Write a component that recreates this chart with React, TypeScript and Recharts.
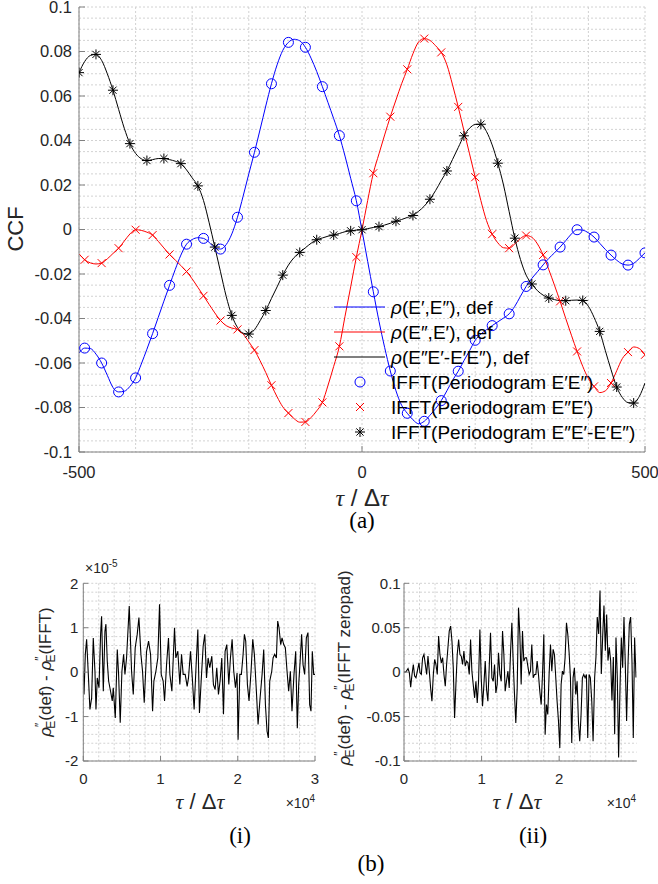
import React from 'react';
import { LineChart, Line, XAxis, YAxis, CartesianGrid } from 'recharts';

// ---------- main chart (a) ----------
const lags = [
  -500, -490, -480, -470, -460, -450, -440, -430, -420, -410,
  -400, -390, -380, -370, -360, -350, -340, -330, -320, -310,
  -300, -290, -280, -270, -260, -250, -240, -230, -220, -210,
  -200, -190, -180, -170, -160, -150, -140, -130, -120, -110,
  -100, -90, -80, -70, -60, -50, -40, -30, -20, -10,
  0, 10, 20, 30, 40, 50, 60, 70, 80, 90,
  100, 110, 120, 130, 140, 150, 160, 170, 180, 190,
  200, 210, 220, 230, 240, 250, 260, 270, 280, 290,
  300, 310, 320, 330, 340, 350, 360, 370, 380, 390,
  400, 410, 420, 430, 440, 450, 460, 470, 480, 490, 500,
];

// rho(E',E''), def  (blue)
const rhoE1E2 = [
  -0.0555, -0.0533, -0.0535, -0.0560, -0.0600, -0.0655, -0.0710, -0.0730, -0.0727, -0.0705,
  -0.0667, -0.0605, -0.0538, -0.0468, -0.0395, -0.0322, -0.0251, -0.0180, -0.0115, -0.0066,
  -0.0045, -0.0037, -0.0040, -0.0058, -0.0082, -0.0088, -0.0068, -0.0020, 0.0055, 0.0150,
  0.0250, 0.0347, 0.0450, 0.0555, 0.0655, 0.0740, 0.0805, 0.0841, 0.0855, 0.0848,
  0.0819, 0.0770, 0.0710, 0.0642, 0.0570, 0.0498, 0.0422, 0.0330, 0.0230, 0.0129,
  -0.0005, -0.0143, -0.0280, -0.0412, -0.0530, -0.0636, -0.0725, -0.0790, -0.0826, -0.0855,
  -0.0873, -0.0862, -0.0835, -0.0805, -0.0769, -0.0725, -0.0678, -0.0637, -0.0590, -0.0545,
  -0.0498, -0.0470, -0.0450, -0.0432, -0.0415, -0.0398, -0.0379, -0.0345, -0.0300, -0.0256,
  -0.0220, -0.0190, -0.0159, -0.0130, -0.0105, -0.0079, -0.0050, -0.0020, -0.0001, -0.0003,
  -0.0015, -0.0034, -0.0062, -0.0090, -0.0115, -0.0138, -0.0155, -0.0160, -0.0152, -0.0130, -0.0105,
];

// rho(E'',E'), def  (red)
const rhoE2E1 = [
  -0.0109, -0.0136, -0.0150, -0.0155, -0.0151, -0.0132, -0.0108, -0.0084, -0.0052, -0.0020,
  -0.0001, -0.0004, -0.0012, -0.0025, -0.0053, -0.0083, -0.0112, -0.0137, -0.0162, -0.0189,
  -0.0222, -0.0260, -0.0298, -0.0337, -0.0375, -0.0409, -0.0432, -0.0443, -0.0449, -0.0470,
  -0.0505, -0.0542, -0.0590, -0.0643, -0.0700, -0.0752, -0.0797, -0.0825, -0.0850, -0.0866,
  -0.0865, -0.0845, -0.0815, -0.0777, -0.0700, -0.0615, -0.0525, -0.0390, -0.0258, -0.0124,
  -0.0002, 0.0130, 0.0253, 0.0340, 0.0425, 0.0507, 0.0582, 0.0655, 0.0720, 0.0790,
  0.0843, 0.0858, 0.0850, 0.0826, 0.0796, 0.0740, 0.0650, 0.0551, 0.0445, 0.0340,
  0.0235, 0.0130, 0.0040, -0.0021, -0.0060, -0.0082, -0.0084, -0.0065, -0.0040, -0.0027,
  -0.0035, -0.0065, -0.0114, -0.0180, -0.0250, -0.0323, -0.0400, -0.0475, -0.0548, -0.0615,
  -0.0670, -0.0705, -0.0733, -0.0725, -0.0690, -0.0635, -0.0580, -0.0551, -0.0528, -0.0535, -0.0563,
];

// rho(E''E'-E'E''), def  (black)
const rhoDiff = [
  0.0705, 0.0755, 0.0782, 0.0787, 0.0760, 0.0700, 0.0626, 0.0540, 0.0455, 0.0386,
  0.0342, 0.0318, 0.0310, 0.0314, 0.0319, 0.0319, 0.0314, 0.0307, 0.0296, 0.0268,
  0.0232, 0.0196, 0.0130, 0.0030, -0.0079, -0.0190, -0.0300, -0.0386, -0.0440, -0.0466,
  -0.0470, -0.0450, -0.0410, -0.0364, -0.0310, -0.0258, -0.0205, -0.0160, -0.0126, -0.0103,
  -0.0082, -0.0062, -0.0046, -0.0038, -0.0030, -0.0025, -0.0018, -0.0010, -0.0006, -0.0003,
  -0.0001, 0.0004, 0.0009, 0.0013, 0.0020, 0.0028, 0.0037, 0.0045, 0.0054, 0.0063,
  0.0082, 0.0105, 0.0136, 0.0175, 0.0220, 0.0263, 0.0315, 0.0368, 0.0421, 0.0455,
  0.0472, 0.0473, 0.0440, 0.0380, 0.0298, 0.0200, 0.0080, -0.0039, -0.0135, -0.0205,
  -0.0245, -0.0275, -0.0295, -0.0308, -0.0315, -0.0320, -0.0320, -0.0318, -0.0317, -0.0319,
  -0.0345, -0.0395, -0.0458, -0.0545, -0.0630, -0.0708, -0.0755, -0.0778, -0.0780, -0.0750, -0.0690,
];

// lags carrying IFFT markers
const blueRedMarkerLags = [
  -490, -460, -430, -400, -370, -340, -310, -280, -250, -220, -190, -160, -130, -100, -70, -40, -10,
  20, 50, 80, 110, 140, 170, 200, 230, 260, 290, 320, 350, 380, 410, 440, 470, 500,
];
const blackMarkerLags = [
  -500, -470, -440, -410, -380, -350, -320, -290, -260, -230, -200, -170, -140, -110, -80, -50, -20,
  0, 30, 60, 90, 120, 150, 180, 210, 240, 270, 300, 330, 360, 390, 420, 450, 480,
];

const mainXTicks = [-500, 0, 500];
const mainYTicks = [-0.1, -0.08, -0.06, -0.04, -0.02, 0, 0.02, 0.04, 0.06, 0.08, 0.1];
const mainYTickLabels = ['-0.1', '-0.08', '-0.06', '-0.04', '-0.02', '0', '0.02', '0.04', '0.06', '0.08', '0.1'];

const legendLabels = [
  ['ρ', '(E′,E″), def'],
  ['ρ', '(E″,E′), def'],
  ['ρ', '(E″E′-E′E″), def'],
  ['', 'IFFT(Periodogram E′E″)'],
  ['', 'IFFT(Periodogram E″E′)'],
  ['', 'IFFT(Periodogram E″E′-E′E″)'],
];

// ---------- subplot (i) ----------
const tauI = [
  0, 90, 260, 430, 650, 860, 1080, 1290, 1510, 1640, 1810, 2030, 2240, 2370, 2590, 2800, 2930, 3100, 3280, 3530,
  3750, 3880, 4140, 4400, 4570, 4780, 5000, 5220, 5390, 5600, 5950, 6250, 6470, 6720, 6980, 7200, 7460, 7670, 7890, 8190,
  8450, 8710, 8970, 9140, 9400, 9650, 9870, 10090, 10340, 10520, 10780, 11030, 11210, 11470, 11810, 11980, 12240, 12500, 12720, 12930,
  13190, 13450, 13620, 13880, 14140, 14350, 14610, 14830, 15040, 15260, 15520, 15730, 15950, 16160, 16380, 16640, 16850, 17070, 17280, 17500,
  17710, 17930, 18150, 18360, 18580, 18840, 19050, 19270, 19480, 19700, 19910, 20040, 20260, 20470, 20690, 20860, 21030, 21250, 21460, 21720,
  21940, 22150, 22410, 22630, 22890, 23150, 23360, 23580, 23790, 23960, 24140, 24400, 24570, 24780, 25000, 25170, 25340, 25560, 25730, 25950,
  26160, 26380, 26590, 26810, 27020, 27280, 27500, 27710, 27890, 28100, 28270, 28450, 28660, 28880, 29090, 29310, 29480, 29650, 29830, 30000,
];
// rho''_E(def) - rho''_E(IFFT), in units of 1e-5
const diffI = [
  0.02, -0.50, 0.40, 0.74, -0.05, -0.84, -0.58, 0.77, 0.02, -0.84, -0.13, -0.35, 0.85, 1.26, -0.43, 0.92, 1.08, 0.25, -0.20, -0.43,
  -0.65, -0.35, -1.03, 0.51, -0.05, -1.14, 0.02, 0.40, -0.05, 0.32, 1.49, 0.02, -0.50, 0.55, 0.85, 1.23, 0.40, 0.02, -0.69, 0.47,
  0.70, 0.40, -0.88, -0.20, 0.02, 0.32, 1.53, -0.05, -0.20, -0.65, 0.17, 0.77, -0.05, -0.43, 1.00, 0.32, 0.47, -0.28, 0.40, -0.05,
  -0.05, -0.32, -0.13, 0.47, -0.20, -0.84, 0.17, 0.96, -0.92, -0.20, 0.59, 0.85, -0.13, 0.32, 0.10, 0.36, -0.28, -0.39, 0.10, -0.50,
  -0.20, 0.32, -0.95, 0.47, 0.62, -0.28, 0.32, 0.74, 0.02, -0.35, -0.02, -1.52, -0.05, -0.05, 0.40, 0.85, 0.70, -0.28, -0.65, 0.02,
  0.74, 0.40, -0.43, -1.18, -0.58, -0.05, 0.51, -0.73, -1.33, -1.48, -0.20, 0.02, 0.32, 0.40, 0.32, 1.15, 1.00, 0.62, 0.77, 0.62,
  0.55, 0.02, -0.43, 0.02, -0.88, -0.05, 0.47, -1.26, -0.28, 0.32, 0.85, 0.17, -0.05, 0.77, 0.89, -0.73, -0.88, 0.47, -0.05, -0.05,
];

// ---------- subplot (ii) ----------
const tauII = [
  0, 260, 520, 690, 860, 1030, 1200, 1370, 1540, 1720, 1930, 2060, 2230, 2400, 2570, 2750, 2920, 3090, 3260, 3430,
  3600, 3780, 3950, 4120, 4290, 4460, 4630, 4810, 4980, 5150, 5320, 5490, 5660, 5830, 6010, 6180, 6350, 6520, 6690, 6860,
  7040, 7210, 7380, 7550, 7720, 7890, 8070, 8240, 8410, 8580, 8750, 8920, 9100, 9270, 9440, 9610, 9780, 9950, 10120, 10300,
  10470, 10640, 10810, 10980, 11150, 11330, 11500, 11670, 11840, 12010, 12180, 12360, 12530, 12700, 12870, 13040, 13210, 13390, 13560, 13730,
  13900, 14070, 14240, 14410, 14590, 14760, 14930, 15100, 15270, 15440, 15620, 15790, 15960, 16130, 16300, 16470, 16650, 16820, 16990, 17160,
  17330, 17500, 17680, 17850, 18020, 18190, 18360, 18530, 18700, 18880, 19050, 19220, 19390, 19560, 19730, 19910, 20080, 20250, 20420, 20590,
  20760, 20940, 21110, 21280, 21450, 21620, 21790, 21960, 22140, 22310, 22480, 22650, 22820, 22990, 23170, 23340, 23510, 23680, 23850, 24020,
  24200, 24370, 24570, 24740, 24910, 25090, 25260, 25430, 25600, 25770, 25950, 26120, 26290, 26460, 26630, 26800, 26980, 27150, 27320, 27490,
  27660, 27840, 28010, 28180, 28350, 28520, 28690, 28870, 29040, 29210, 29380, 29550, 29720, 29900,
];
// rho''_E(def) - rho''_E(IFFT zeropad)
const diffII = [
  0, 0.0004, 0.0041, -0.0008, -0.0169, -0.0026, 0.0086, -0.0045, -0.0064, 0.0011, 0.0105, -0.0008, -0.0026, 0.0162, 0.0199, 0.0086, -0.0026, 0.0180, 0.0011, -0.0177,
  -0.0327, -0.0026, 0.0143, 0.0086, -0.0026, 0.0406, 0.0199, 0.0105, 0.0162, -0.0026, -0.0158, 0.0086, 0.0274, 0.0462, 0.0519, 0.0350, 0.0049, -0.0515, -0.0139, 0.0199,
  0.0368, 0.0199, 0.0180, 0.0086, 0.0237, 0.0068, 0.0124, 0.0105, -0.0026, 0.0368, 0.0011, -0.0139, -0.0289, -0.0102, -0.0346, -0.0102, 0.0481, -0.0064, -0.0384, -0.0139,
  0.0124, -0.0196, -0.0327, 0.0049, 0.0444, -0.0064, -0.0102, 0.0086, -0.0233, -0.0139, 0.0218, -0.0026, -0.0102, 0.0462, 0.0199, -0.0214, -0.0102, 0.0011, -0.0177, 0.0218,
  0.0556, 0.0124, -0.0252, -0.0571, -0.0177, 0.0726, 0.0425, -0.0139, 0.0462, 0.0124, 0.0162, 0.0162, 0.0068, -0.0026, 0.0011, 0.0312, -0.0064, -0.0026, -0.0026, 0.0124,
  -0.0026, -0.0214, -0.0365, -0.0026, 0.0425, -0.0703, -0.0365, -0.0477, -0.0026, 0.0312, 0.0011, 0.0256, 0.0199, -0.0064, -0.0327, -0.0553, -0.0854, -0.0139, 0.0011, -0.0026,
  0.0162, 0.0556, 0.0425, 0.0218, -0.0064, -0.0797, -0.0064, 0.0049, -0.0252, -0.0102, -0.0553, -0.0778, -0.0477, -0.0064, -0.0026, -0.0064, -0.0026, -0.0741, -0.0026, -0.0064,
  -0.0327, -0.0778, -0.006, 0.017, 0.062, 0.043, 0.092, -0.002, 0.039, 0.075, 0.024, 0.065, 0.013, 0.028, 0.013, -0.032, 0.017, -0.070, 0.039, -0.006,
  -0.096, -0.017, 0.039, 0.005, 0.062, 0.009, -0.055, 0.009, 0.054, 0.062, 0.013, -0.074, 0.039, -0.006,
];

const subIXTicks = [0, 10000, 20000, 30000];
const subIYTicks = [-2, -1, 0, 1, 2];
const subIIXTicks = [0, 10000, 20000];
const subIIYTicks = [-0.1, -0.05, 0, 0.05, 0.1];
const subIIYTickLabels = ['-0.1', '-0.05', '0', '0.05', '0.1'];

// ---------- helpers ----------
const range = (a: number, b: number, step: number) => {
  const out: number[] = [];
  const n = Math.round((b - a) / step);
  for (let i = 0; i <= n; i++) out.push(Number((a + i * step).toFixed(6)));
  return out;
};

const mainData = lags.map((lag, i) => ({
  lag,
  blue: rhoE1E2[i],
  red: rhoE2E1[i],
  black: rhoDiff[i],
  blueM: blueRedMarkerLags.includes(lag) ? rhoE1E2[i] : null,
  redM: blueRedMarkerLags.includes(lag) ? rhoE2E1[i] : null,
  blackM: blackMarkerLags.includes(lag) ? rhoDiff[i] : null,
}));
const subIData = tauI.map((tau, i) => ({ tau, d: diffI[i] }));
const subIIData = tauII.map((tau, i) => ({ tau, d: diffII[i] }));

const SANS = "'Liberation Sans', Arial, Helvetica, sans-serif";
const SERIF = "'Liberation Serif', 'Times New Roman', serif";
const AX = '#808080';
const TXT = '#262626';
const GRID = '#d2d2d2';

const ok = (p: any) => p && p.value != null && typeof p.cx === 'number' && typeof p.cy === 'number' && !isNaN(p.cy);

const CircleDot = (p: any) =>
  ok(p) ? (
    <circle key={`c${p.index}`} cx={p.cx} cy={p.cy} r={5} fill="none" stroke="#0000ff" strokeWidth={1} />
  ) : (
    <g key={`c${p.index}`} />
  );

const CrossShape = ({ x, y, color, s = 4 }: any) => (
  <g>
    <line x1={x - s} y1={y - s} x2={x + s} y2={y + s} stroke={color} strokeWidth={1} />
    <line x1={x - s} y1={y + s} x2={x + s} y2={y - s} stroke={color} strokeWidth={1} />
  </g>
);
const StarShape = ({ x, y, color, s = 5 }: any) => {
  const d = s * 0.72;
  return (
    <g>
      <line x1={x - s} y1={y} x2={x + s} y2={y} stroke={color} strokeWidth={1} />
      <line x1={x} y1={y - s} x2={x} y2={y + s} stroke={color} strokeWidth={1} />
      <line x1={x - d} y1={y - d} x2={x + d} y2={y + d} stroke={color} strokeWidth={1} />
      <line x1={x - d} y1={y + d} x2={x + d} y2={y - d} stroke={color} strokeWidth={1} />
    </g>
  );
};
const CrossDot = (p: any) =>
  ok(p) ? (
    <g key={`x${p.index}`}>
      <CrossShape x={p.cx} y={p.cy} color="#ff0000" />
    </g>
  ) : (
    <g key={`x${p.index}`} />
  );
const StarDot = (p: any) =>
  ok(p) ? (
    <g key={`s${p.index}`}>
      <StarShape x={p.cx} y={p.cy} color="#000000" />
    </g>
  ) : (
    <g key={`s${p.index}`} />
  );

const tickStyle = (fs: number) => ({ fill: TXT, fontSize: fs, fontFamily: SANS });

const TauLabel = ({ x, y, fs }: any) => (
  <text x={x} y={y} textAnchor="middle" fontSize={fs} fill={TXT}>
    <tspan fontFamily={SERIF} fontStyle="italic">τ</tspan>
    <tspan fontFamily={SANS}>{'\u00a0/\u00a0'}</tspan>
    <tspan fontFamily={SANS}>Δ</tspan>
    <tspan fontFamily={SERIF} fontStyle="italic">τ</tspan>
  </text>
);

const RhoLabel = ({ x, y, tail }: any) => (
  <text transform={`translate(${x},${y}) rotate(-90)`} textAnchor="middle" fontSize={17} fontFamily={SANS} fill={TXT}>
    <tspan fontStyle="italic">ρ</tspan>
    <tspan fontSize={12} dy={-7}>″</tspan>
    <tspan fontSize={12} dx={-6} dy={11}>E</tspan>
    <tspan dy={-4}>(def) - </tspan>
    <tspan fontStyle="italic">ρ</tspan>
    <tspan fontSize={12} dy={-7}>″</tspan>
    <tspan fontSize={12} dx={-6} dy={11}>E</tspan>
    <tspan dy={-4}>{tail}</tspan>
  </text>
);

export default function App() {
  return (
    <div style={{ position: 'absolute', left: 0, top: 0, width: 658, height: 884, background: '#fff' }}>
      {/* ---------- (a) ---------- */}
      <div style={{ position: 'absolute', left: 0, top: 0 }}>
        <LineChart width={658} height={482} data={mainData} margin={{ top: 7, right: 13, bottom: 0, left: 19 }}>
          <CartesianGrid
            verticalValues={range(-500, 500, 100)}
            horizontalValues={range(-0.1, 0.1, 0.005)}
            stroke={GRID}
            strokeDasharray="2 2"
          />
          <XAxis
            dataKey="lag"
            type="number"
            domain={[-500, 500]}
            ticks={mainXTicks}
            allowDataOverflow
            height={30}
            tickSize={-6}
            tickMargin={20}
            interval={0}
            tick={tickStyle(16.5)}
            axisLine={{ stroke: AX }}
            tickLine={{ stroke: AX }}
          />
          <XAxis
            xAxisId="top"
            orientation="top"
            type="number"
            domain={[-500, 500]}
            ticks={mainXTicks}
            allowDataOverflow
            height={0}
            tickSize={-6}
            tick={false}
            interval={0}
            axisLine={{ stroke: AX }}
            tickLine={{ stroke: AX }}
          />
          <YAxis
            type="number"
            domain={[-0.1, 0.1]}
            ticks={mainYTicks}
            allowDataOverflow
            width={60}
            tickSize={-6}
            tickMargin={13}
            interval={0}
            tickFormatter={(v: number) => mainYTickLabels[mainYTicks.findIndex((t) => Math.abs(t - v) < 1e-9)] ?? String(v)}
            tick={tickStyle(16.5)}
            axisLine={{ stroke: AX }}
            tickLine={{ stroke: AX }}
          />
          <YAxis
            yAxisId="right"
            orientation="right"
            type="number"
            domain={[-0.1, 0.1]}
            ticks={mainYTicks}
            allowDataOverflow
            width={0}
            tickSize={-6}
            tick={false}
            interval={0}
            axisLine={{ stroke: AX }}
            tickLine={{ stroke: AX }}
          />
          <Line dataKey="blue" type="monotone" stroke="#0000ff" strokeWidth={1} dot={false} activeDot={false} isAnimationActive={false} />
          <Line dataKey="red" type="monotone" stroke="#ff0000" strokeWidth={1} dot={false} activeDot={false} isAnimationActive={false} />
          <Line dataKey="black" type="monotone" stroke="#000000" strokeWidth={1} dot={false} activeDot={false} isAnimationActive={false} />
          <Line dataKey="blueM" stroke="none" dot={CircleDot} activeDot={false} isAnimationActive={false} />
          <Line dataKey="redM" stroke="none" dot={CrossDot} activeDot={false} isAnimationActive={false} />
          <Line dataKey="blackM" stroke="none" dot={StarDot} activeDot={false} isAnimationActive={false} />
        </LineChart>
      </div>

      {/* ---------- (i) ---------- */}
      <div style={{ position: 'absolute', left: 0, top: 575 }}>
        <LineChart width={330} height={215} data={subIData} margin={{ top: 8.3, right: 15, bottom: 0, left: 23.3 }}>
          <CartesianGrid
            verticalValues={range(0, 30000, 2000)}
            horizontalValues={range(-2, 2, 0.2)}
            stroke={GRID}
            strokeDasharray="2 2"
          />
          <XAxis
            dataKey="tau"
            type="number"
            domain={[0, 30000]}
            ticks={subIXTicks}
            allowDataOverflow
            height={29}
            tickSize={-5}
            tickMargin={17}
            interval={0}
            tickFormatter={(v: number) => String(v / 10000)}
            tick={tickStyle(15)}
            axisLine={{ stroke: AX }}
            tickLine={{ stroke: AX }}
          />
          <XAxis xAxisId="top" orientation="top" type="number" domain={[0, 30000]} ticks={subIXTicks} allowDataOverflow height={0} tickSize={-5} tick={false} interval={0} axisLine={{ stroke: AX }} tickLine={{ stroke: AX }} />
          <YAxis
            type="number"
            domain={[-2, 2]}
            ticks={subIYTicks}
            allowDataOverflow
            width={60}
            tickSize={-5}
            tickMargin={10}
            interval={0}
            tick={tickStyle(15)}
            axisLine={{ stroke: AX }}
            tickLine={{ stroke: AX }}
          />
          <YAxis yAxisId="right" orientation="right" type="number" domain={[-2, 2]} ticks={subIYTicks} allowDataOverflow width={0} tickSize={-5} tick={false} interval={0} axisLine={{ stroke: AX }} tickLine={{ stroke: AX }} />
          <Line dataKey="d" type="linear" stroke="#000" strokeWidth={1.1} dot={false} activeDot={false} isAnimationActive={false} />
        </LineChart>
      </div>

      {/* ---------- (ii) ---------- */}
      <div style={{ position: 'absolute', left: 330, top: 575 }}>
        <LineChart width={328} height={215} data={subIIData} margin={{ top: 8.3, right: 21.3, bottom: 0, left: 14 }}>
          <CartesianGrid
            verticalValues={range(0, 28000, 2000)}
            horizontalValues={range(-0.1, 0.1, 0.01)}
            stroke={GRID}
            strokeDasharray="2 2"
          />
          <XAxis
            dataKey="tau"
            type="number"
            domain={[0, 29990]}
            ticks={subIIXTicks}
            allowDataOverflow
            height={29}
            tickSize={-5}
            tickMargin={17}
            interval={0}
            tickFormatter={(v: number) => String(v / 10000)}
            tick={tickStyle(15)}
            axisLine={{ stroke: AX }}
            tickLine={{ stroke: AX }}
          />
          <XAxis xAxisId="top" orientation="top" type="number" domain={[0, 29990]} ticks={subIIXTicks} allowDataOverflow height={0} tickSize={-5} tick={false} interval={0} axisLine={{ stroke: AX }} tickLine={{ stroke: AX }} />
          <YAxis
            type="number"
            domain={[-0.1, 0.1]}
            ticks={subIIYTicks}
            allowDataOverflow
            width={60}
            tickSize={-5}
            tickMargin={8.3}
            interval={0}
            tickFormatter={(v: number) => subIIYTickLabels[subIIYTicks.findIndex((t) => Math.abs(t - v) < 1e-9)] ?? String(v)}
            tick={tickStyle(15)}
            axisLine={{ stroke: AX }}
            tickLine={{ stroke: AX }}
          />
          <YAxis yAxisId="right" orientation="right" type="number" domain={[-0.1, 0.1]} ticks={subIIYTicks} allowDataOverflow width={0} tickSize={-5} tick={false} interval={0} axisLine={{ stroke: AX }} tickLine={{ stroke: AX }} />
          <Line dataKey="d" type="linear" stroke="#000" strokeWidth={1.1} dot={false} activeDot={false} isAnimationActive={false} />
        </LineChart>
      </div>

      {/* ---------- text overlay ---------- */}
      <svg width={658} height={884} style={{ position: 'absolute', left: 0, top: 0, pointerEvents: 'none' }}>
        {/* legend */}
        {legendLabels.map((lab, i) => {
          const y = [307, 332, 357, 382, 407, 432][i];
          return (
            <g key={i}>
              {i === 0 && <line x1={334} x2={385} y1={y} y2={y} stroke="#0000ff" strokeWidth={1} />}
              {i === 1 && <line x1={334} x2={385} y1={y} y2={y} stroke="#ff0000" strokeWidth={1} />}
              {i === 2 && <line x1={334} x2={385} y1={y} y2={y} stroke="#000" strokeWidth={1} />}
              {i === 3 && <circle cx={360} cy={y} r={5} fill="none" stroke="#0000ff" strokeWidth={1} />}
              {i === 4 && <CrossShape x={360} y={y} color="#ff0000" />}
              {i === 5 && <StarShape x={360} y={y} color="#000" />}
              <text x={391} y={y + 7} fontSize={19} fontFamily={SANS} fill="#000">
                {lab[0] && <tspan fontStyle="italic">{lab[0]}</tspan>}
                <tspan>{lab[1]}</tspan>
              </text>
            </g>
          );
        })}

        {/* main axis labels */}
        <text transform="translate(23,229) rotate(-90)" textAnchor="middle" fontSize={22} fontFamily={SANS} fill={TXT}>
          CCF
        </text>
        <TauLabel x={362} y={506} fs={24} />
        <text x={362} y={528} textAnchor="middle" fontSize={23} fontFamily={SERIF} fill="#000">
          (a)
        </text>

        {/* subplot (i) labels */}
        <text x={85} y={573} fontSize={14} fontFamily={SANS} fill={TXT}>
          ×10<tspan fontSize={10} dy={-6}>-5</tspan>
        </text>
        <TauLabel x={200} y={809} fs={22} />
        <text x={315} y={808} textAnchor="end" fontSize={14} fontFamily={SANS} fill={TXT}>
          ×10<tspan fontSize={10} dy={-6}>4</tspan>
        </text>
        <RhoLabel x={51} y={672} tail="(IFFT)" />
        <text x={240} y={843} textAnchor="middle" fontSize={23} fontFamily={SERIF} fill="#000">
          (i)
        </text>

        {/* subplot (ii) labels */}
        <TauLabel x={517} y={809} fs={22} />
        <text x={636} y={808} textAnchor="end" fontSize={14} fontFamily={SANS} fill={TXT}>
          ×10<tspan fontSize={10} dy={-6}>4</tspan>
        </text>
        <RhoLabel x={350} y={668} tail="(IFFT zeropad)" />
        <text x={533} y={843} textAnchor="middle" fontSize={23} fontFamily={SERIF} fill="#000">
          (ii)
        </text>
        <text x={371} y={871} textAnchor="middle" fontSize={23} fontFamily={SERIF} fill="#000">
          (b)
        </text>
      </svg>
    </div>
  );
}
